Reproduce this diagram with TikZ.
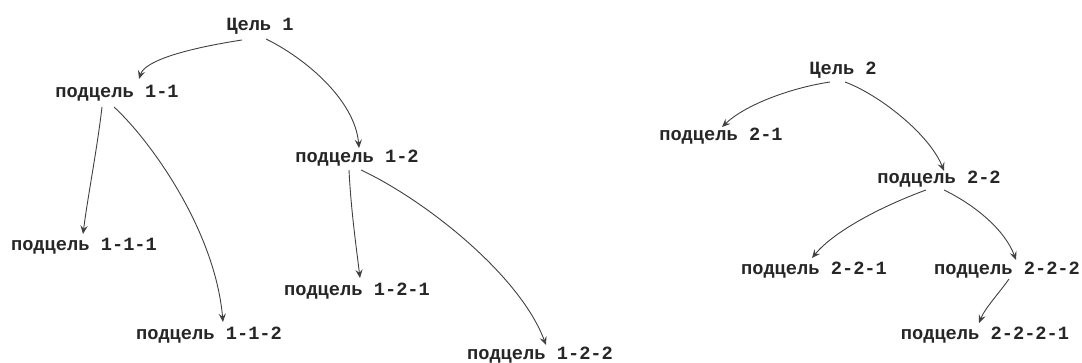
\documentclass[tikz,border=0pt]{standalone}
\usepackage{fontspec}
\setmonofont{Liberation Mono}
\usetikzlibrary{arrows.meta}
\begin{document}
\begin{tikzpicture}[x=0.5pt,y=-0.5pt,
  goal/.style={anchor=base,inner sep=0pt,text=black!85,font=\ttfamily\bfseries\fontsize{9.35pt}{11pt}\selectfont},
  arr/.style={draw=black!75,line width=0.45pt,-{Stealth[length=4.2pt,width=3.6pt,inset=1.6pt]}}]
\useasboundingbox (0,0) rectangle (1082,363);
% nodes
\node[goal] (c1)   at (260,31)  {Цель 1};
\node[goal] (s11)  at (117,98)  {подцель 1-1};
\node[goal] (s12)  at (357,163) {подцель 1-2};
\node[goal] (s111) at (84,251)  {подцель 1-1-1};
\node[goal] (s112) at (209,340) {подцель 1-1-2};
\node[goal] (s121) at (357,296) {подцель 1-2-1};
\node[goal] (s122) at (540,359) {подцель 1-2-2};
\node[goal] (c2)   at (843,75)  {Цель 2};
\node[goal] (s21)  at (721,141) {подцель 2-1};
\node[goal] (s22)  at (939,184) {подцель 2-2};
\node[goal] (s221) at (814,275) {подцель 2-2-1};
\node[goal] (s222) at (1007,275) {подцель 2-2-2};
\node[goal] (s2221) at (985,340) {подцель 2-2-2-1};
% connectors
\draw[arr] ([shift={(-18,9)}]c1.base) .. controls (190,48) and (145,60) .. ([shift={(22,-19)}]s11.base);
\draw[arr] ([shift={(6,8)}]c1.base) .. controls (305,58) and (355,100) .. ([shift={(2,-15)}]s12.base);
\draw[arr] ([shift={(-15,9)}]s11.base) .. controls (97,150) and (88,195) .. ([shift={(-1,-17)}]s111.base);
\draw[arr] ([shift={(-3,9)}]s11.base) .. controls (150,140) and (215,230) .. ([shift={(14,-18)}]s112.base);
\draw[arr] ([shift={(-8,7)}]s12.base) .. controls (351,210) and (356,245) .. ([shift={(3,-18)}]s121.base);
\draw[arr] ([shift={(4,7)}]s12.base) .. controls (425,200) and (520,275) .. ([shift={(6,-14)}]s122.base);
\draw[arr] ([shift={(-13,7)}]c2.base) .. controls (790,88) and (745,105) .. ([shift={(1,-14)}]s21.base);
\draw[arr] ([shift={(2,7)}]c2.base) .. controls (880,95) and (930,135) .. ([shift={(5,-13)}]s22.base);
\draw[arr] ([shift={(-13,6)}]s22.base) .. controls (885,205) and (835,230) .. ([shift={(-2,-17)}]s221.base);
\draw[arr] ([shift={(5,6)}]s22.base) .. controls (975,205) and (1005,230) .. ([shift={(9,-15)}]s222.base);
\draw[arr] ([shift={(2,4)}]s222.base) .. controls (1000,292) and (985,308) .. ([shift={(-6,-17)}]s2221.base);
\end{tikzpicture}
\end{document}
